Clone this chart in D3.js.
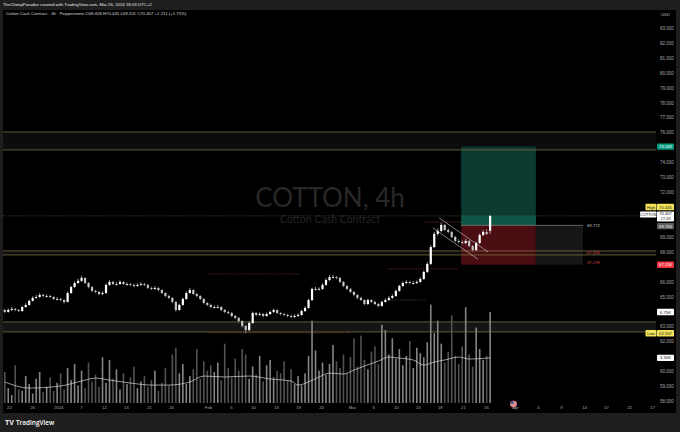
<!DOCTYPE html>
<html>
<head>
<meta charset="utf-8">
<script src="https://cdn.jsdelivr.net/npm/d3@7"></script>
<style>
  html, body { margin: 0; padding: 0; background: #1e1e1e; }
  svg { display: block; font-family: "Liberation Sans", Arial, sans-serif; }
</style>
</head>
<body>
<script>
/*
 * Cotton Cash Contract, 4h (Pepperstone), TradingView snapshot
 * candles + volume overlay + long position tool + zones
 */

// ---- data ----
var opens = [64.10,63.97,64.10,64.17,64.10,64.03,64.30,64.44,64.71,64.91,
  64.97,65.11,65.04,65.04,64.97,64.84,64.84,64.77,64.64,65.24,
  65.64,65.91,66.05,66.25,65.91,65.64,65.38,65.31,65.17,65.24,
  65.78,65.98,65.84,65.84,65.98,65.84,65.84,65.78,65.71,65.78,
  65.84,65.78,65.58,65.51,65.58,65.44,65.24,65.04,64.91,64.64,
  64.10,64.44,64.84,65.24,65.44,65.17,65.04,64.84,64.57,64.44,
  64.30,64.30,64.30,64.10,63.97,63.90,63.70,63.57,63.36,63.03,
  62.76,63.23,63.90,63.77,63.83,63.70,63.83,63.97,64.10,63.90,
  63.83,63.77,63.70,63.63,63.70,63.77,64.03,64.24,64.77,65.51,
  65.51,65.51,65.78,66.11,66.31,66.31,66.25,65.98,65.71,65.51,
  65.31,65.11,64.91,64.77,64.50,64.77,64.64,64.50,64.37,64.64,
  64.77,64.91,65.04,65.38,65.71,65.91,65.98,65.91,65.91,65.98,
  66.18,66.65,67.19,68.32,69.20,69.40,69.80,69.46,69.33,68.99,
  68.73,68.66,68.59,68.73,68.39,68.12,68.59,69.13,69.33,69.408];
var highs = [64.18,64.21,64.30,64.24,64.16,64.38,64.55,64.80,65.02,65.10,
  65.24,65.19,65.15,65.12,65.03,64.96,64.92,64.83,65.33,65.72,
  66.02,66.20,66.40,66.31,65.97,65.70,65.45,65.38,65.35,65.86,
  66.10,66.06,65.96,66.08,66.04,65.95,65.92,65.86,65.89,65.96,
  65.92,65.84,65.66,65.70,65.63,65.50,65.30,65.12,64.98,64.70,
  64.52,64.93,65.33,65.58,65.50,65.24,65.10,64.90,64.64,64.52,
  64.41,64.44,64.36,64.17,64.05,63.96,63.77,63.63,63.42,63.10,
  63.32,63.99,63.98,63.95,63.90,63.93,64.06,64.19,64.15,63.97,
  63.91,63.84,63.78,63.80,63.88,64.12,64.33,64.86,65.60,65.66,
  65.62,65.88,66.22,66.44,66.45,66.38,66.30,66.05,65.78,65.58,
  65.38,65.17,64.99,64.83,64.86,64.84,64.71,64.57,64.73,64.88,
  65.02,65.15,65.47,65.80,66.02,66.10,66.06,66.03,66.09,66.28,
  66.74,67.30,68.45,69.34,69.56,69.95,69.86,69.58,69.40,69.08,
  68.84,68.77,68.88,68.80,68.46,68.68,69.22,69.45,69.52,70.445];
var lows = [63.88,63.92,64.02,64.01,63.95,63.98,64.25,64.39,64.66,64.84,
  64.92,64.96,64.93,64.90,64.77,64.74,64.69,64.52,64.60,65.18,
  65.58,65.85,65.98,65.84,65.55,65.30,65.22,65.10,65.09,65.19,
  65.72,65.77,65.74,65.78,65.76,65.73,65.70,65.62,65.64,65.72,
  65.69,65.50,65.43,65.45,65.36,65.15,64.96,64.82,64.55,63.98,
  64.05,64.38,64.78,65.18,65.10,64.95,64.76,64.48,64.36,64.22,
  64.20,64.21,64.02,63.88,63.80,63.61,63.47,63.25,62.92,62.537,
  62.68,63.17,63.68,63.70,63.62,63.64,63.77,63.90,63.82,63.74,
  63.69,63.61,63.55,63.56,63.64,63.71,63.97,64.18,64.70,65.40,
  65.41,65.45,65.72,66.04,66.22,66.16,65.90,65.63,65.42,65.22,
  65.02,64.82,64.68,64.40,64.44,64.56,64.42,64.28,64.31,64.58,
  64.71,64.85,64.98,65.32,65.65,65.84,65.83,65.81,65.85,65.92,
  66.12,66.58,67.12,68.25,69.08,69.31,69.38,69.22,68.90,68.64,
  68.55,68.48,68.50,68.30,68.03,68.06,68.52,69.05,69.12,69.201];
var closes = [63.97,64.10,64.17,64.10,64.03,64.30,64.44,64.71,64.91,64.97,
  65.11,65.04,65.04,64.97,64.84,64.84,64.77,64.64,65.24,65.64,
  65.91,66.05,66.25,65.91,65.64,65.38,65.31,65.17,65.24,65.78,
  65.98,65.84,65.84,65.98,65.84,65.84,65.78,65.71,65.78,65.84,
  65.78,65.58,65.51,65.58,65.44,65.24,65.04,64.91,64.64,64.10,
  64.44,64.84,65.24,65.44,65.17,65.04,64.84,64.57,64.44,64.30,
  64.30,64.30,64.10,63.97,63.90,63.70,63.57,63.36,63.03,62.76,
  63.23,63.90,63.77,63.83,63.70,63.83,63.97,64.10,63.90,63.83,
  63.77,63.70,63.63,63.70,63.77,64.03,64.24,64.77,65.51,65.51,
  65.51,65.78,66.11,66.31,66.31,66.25,65.98,65.71,65.51,65.31,
  65.11,64.91,64.77,64.50,64.77,64.64,64.50,64.37,64.64,64.77,
  64.91,65.04,65.38,65.71,65.91,65.98,65.91,65.91,65.98,66.18,
  66.65,67.19,68.32,69.20,69.40,69.80,69.46,69.33,68.99,68.73,
  68.66,68.59,68.73,68.39,68.12,68.59,69.13,69.33,69.196,70.407];
// volume in thousands
var volumes = [2.3,1.1,0.6,2.8,1.0,0.9,2.0,1.4,0.7,1.8,2.3,0.8,1.2,1.9,0.9,1.5,2.2,1.0,2.6,1.7,
  2.9,1.3,2.4,1.1,3.0,1.6,2.1,1.2,3.4,1.5,3.2,1.8,2.5,1.0,2.2,1.4,1.9,2.7,1.1,1.6,
  2.0,1.2,1.7,2.4,0.9,1.5,2.6,1.3,3.6,4.1,2.2,2.9,1.4,2.0,2.5,4.0,1.8,3.1,2.4,2.8,
  2.3,3.0,1.7,4.4,2.6,1.9,3.3,2.4,4.0,3.6,1.8,2.7,2.1,3.5,1.6,2.8,3.2,1.9,2.4,2.2,
  3.1,1.7,2.5,1.4,2.0,1.3,2.2,3.5,6.1,3.9,2.4,3.0,2.1,2.9,4.3,3.1,2.6,3.6,2.2,3.4,
  4.8,2.7,5.0,3.2,2.5,3.8,4.2,2.9,5.8,5.4,3.6,4.8,3.3,4.0,2.8,3.5,4.6,2.6,4.1,3.7,
  3.4,4.5,7.3,5.2,6.1,4.4,3.0,3.8,6.5,3.5,2.9,4.2,7.1,3.6,2.7,5.6,4.0,3.2,3.5,6.75];
// volume moving average, read at some bars
var volMaBars = [0,7,16,22,26,30,36,42,47,53,57,63,70,76,82,84,87,90,93,97,100,103,107,110,113,117,120,123,126,130,133,139];
var volMaVals = [1.56,1.11,1.26,1.63,1.85,1.70,1.48,1.33,1.33,1.56,2.0,1.93,2.0,1.78,1.63,1.33,1.56,1.93,2.22,2.15,2.44,2.74,3.11,3.41,3.33,3.19,2.81,3.04,3.19,3.41,3.26,3.35];

var priceTicks = [58,59,60,62,63,65,66,68,69,72,73,74,76,77,78,79,80,81,82,83];
var timeTickLabels = ["22","26","2024","7","12","15","21","24","Feb","5","10","13","19","24",
  "Mar","5","10","13","18","21","26","Apr","4","9","14","17","22","27"];
var timeTickSlots = [1.7,8.3,15.8,22.3,28.9,35.2,41.8,48.1,58.7,65.3,71.6,78.2,84.5,91.1,
  99.9,106.0,112.5,118.8,125.1,131.7,138.3,146.6,153.2,159.8,166.4,172.7,179.3,185.9];

// zones [top, bottom]
var zones = [[76.03, 74.83], [68.06, 67.79], [63.30, 62.63]];
// long position: entry, stop, target, from/to slot
var entryPrice = 69.772, stopPrice = 67.134, targetPrice = 75.049;
var positionSlots = [131.2, 152.6, 166.1];
// falling channel [slot, price]
var channelLines = [[[124.9, 70.27], [138.9, 67.99]], [[123.1, 69.60], [136.0, 67.50]]];
// dotted level lines [price, fromSlot, toSlot, colour]
var dottedLevels = [[66.51, 58.7, 85.0, "#b23a3a"], [62.56, 58.7, 99.4, "#c0503a"],
  [70.0, 120.8, 131.5, "#c04a4a"], [66.85, 110.3, 130.0, "#c04040"], [64.77, 110.8, 121.4, "#6a6a6a"]];

var W = 680, H = 432;
var left = 3, right = 656;

var svg = d3.select("body").append("svg").attr("width", W).attr("height", H);

// frame
svg.append("rect").attr("width", W).attr("height", H).attr("fill", "#1e1e1e");
svg.append("rect").attr("x", left).attr("y", 10).attr("width", 673).attr("height", 403).attr("fill", "#000");

var xs = d3.scaleLinear().domain([0, 187]).range([left, right]);
var ys = d3.scaleLinear().domain([58, 83]).range([401, 28]);
var vs = d3.scaleLinear().domain([0, 6.75]).range([403, 312]);

var plot = svg.append("g");
svg.append("clipPath").attr("id", "clip").append("rect")
  .attr("x", left).attr("y", 10).attr("width", right - left).attr("height", 395);
plot.attr("clip-path", "url(#clip)");

// zones
zones.forEach(function(z, k) {
  plot.append("rect")
    .attr("x", left).attr("width", right - left)
    .attr("y", ys(z[0])).attr("height", ys(z[1]) - ys(z[0]))
    .attr("fill", k == 2 ? "#141414" : "#0c0c0c");
});

// watermark
svg.append("text").attr("x", 330).attr("y", 207).attr("text-anchor", "middle")
  .style("font-family", "Lato, 'Open Sans', sans-serif").style("font-size", "26px")
  .attr("fill", "#282828").text("COTTON, 4h");
svg.append("text").attr("x", 330).attr("y", 223).attr("text-anchor", "middle")
  .style("font-family", "Lato, 'Open Sans', sans-serif").style("font-size", "10.5px")
  .attr("fill", "#252525").text("Cotton Cash Contract");

// long position tool
var px0 = xs(positionSlots[0]), px1 = xs(positionSlots[1]), px2 = xs(positionSlots[2]);
plot.append("rect").attr("x", px0).attr("width", px1 - px0)
  .attr("y", ys(targetPrice)).attr("height", ys(entryPrice) - ys(targetPrice)).attr("fill", "#0b3a30");
plot.append("rect").attr("x", px0).attr("width", px1 - px0)
  .attr("y", ys(closes[closes.length - 1])).attr("height", ys(entryPrice) - ys(closes[closes.length - 1]))
  .attr("fill", "#0d5646");
plot.append("rect").attr("x", px0).attr("width", px1 - px0)
  .attr("y", ys(entryPrice)).attr("height", ys(stopPrice) - ys(entryPrice)).attr("fill", "#4a0d12");
plot.append("rect").attr("x", px1).attr("width", px2 - px1)
  .attr("y", ys(entryPrice)).attr("height", ys(stopPrice) - ys(entryPrice)).attr("fill", "#161616");
plot.append("line").attr("x1", px0).attr("x2", px2)
  .attr("y1", ys(entryPrice)).attr("y2", ys(entryPrice)).attr("stroke", "#8a8a8a").attr("stroke-width", 0.7);

// zone lines
zones.forEach(function(z) {
  z.forEach(function(p) {
    plot.append("line").attr("x1", left).attr("x2", right)
      .attr("y1", ys(p)).attr("y2", ys(p))
      .attr("stroke", "#7a6e40").attr("stroke-width", 0.8);
  });
});

// volume bars
var n = closes.length;
plot.selectAll(".vol").data(volumes).enter().append("rect")
  .attr("class", "vol")
  .attr("x", (d, i) => xs(i + 0.5) - 0.8)
  .attr("width", 1.6)
  .attr("y", d => vs(d))
  .attr("height", d => vs(0) - vs(d))
  .attr("fill", (d, i) => closes[i] >= opens[i] ? "#858585" : "#525252");

// volume MA
plot.append("path")
  .datum(volMaBars.map((b, k) => [b, volMaVals[k]]))
  .attr("d", d3.line().x(d => xs(d[0] + 0.5)).y(d => vs(d[1])).curve(d3.curveMonotoneX))
  .attr("fill", "none").attr("stroke", "#d8d8d8").attr("stroke-width", 0.7);

// dotted level lines
dottedLevels.forEach(function(l) {
  plot.append("line").attr("x1", xs(l[1])).attr("x2", xs(l[2]))
    .attr("y1", ys(l[0])).attr("y2", ys(l[0]))
    .attr("stroke", l[3]).attr("stroke-width", 0.7).attr("stroke-dasharray", "1,1.5");
});
// last price line
plot.append("line").attr("x1", left).attr("x2", right)
  .attr("y1", ys(closes[n - 1])).attr("y2", ys(closes[n - 1]))
  .attr("stroke", "#6d6d6d").attr("stroke-width", 0.6).attr("stroke-dasharray", "1,1.5");

// candles
var candles = plot.selectAll(".candle").data(closes).enter().append("g").attr("class", "candle");
candles.append("line")
  .attr("x1", (d, i) => xs(i + 0.5)).attr("x2", (d, i) => xs(i + 0.5))
  .attr("y1", (d, i) => ys(highs[i])).attr("y2", (d, i) => ys(lows[i]))
  .attr("stroke", (d, i) => d >= opens[i] ? "#ffffff" : "#c4c4c4").attr("stroke-width", 0.6);
candles.append("rect")
  .attr("x", (d, i) => xs(i + 0.5) - 1.1).attr("width", 2.2)
  .attr("y", (d, i) => ys(Math.max(d, opens[i])))
  .attr("height", (d, i) => Math.max(0.8, Math.abs(ys(d) - ys(opens[i]))))
  .attr("fill", (d, i) => d >= opens[i] ? "#ffffff" : "#c4c4c4");

// channel
channelLines.forEach(function(l) {
  plot.append("line").attr("x1", xs(l[0][0])).attr("y1", ys(l[0][1]))
    .attr("x2", xs(l[1][0])).attr("y2", ys(l[1][1]))
    .attr("stroke", "#d0d0d0").attr("stroke-width", 0.6);
});

// position labels
svg.append("text").attr("x", px2 + 4).attr("y", ys(entryPrice) + 1.5)
  .style("font-size", "4.2px").attr("fill", "#c8c8c8").text(entryPrice.toFixed(3));
svg.append("text").attr("x", px2 + 4).attr("y", ys(67.956) + 1.5)
  .style("font-size", "4.2px").attr("fill", "#d04040").text("67.956");
svg.append("text").attr("x", px2 + 4).attr("y", ys(67.299) + 1.5)
  .style("font-size", "4.2px").attr("fill", "#d04040").text("67.299");

// price axis
var yAxis = d3.axisRight(ys).tickValues(priceTicks).tickSize(0).tickPadding(4)
  .tickFormat(d3.format(".3f"));
var ya = svg.append("g").attr("transform", `translate(${right}, 0)`).call(yAxis);
ya.select(".domain").remove();
ya.selectAll("text").attr("fill", "#a8a8a8").style("font-size", "4.5px")
  .style("font-family", "'Liberation Sans', Arial, sans-serif");

// time axis
var xAxis = d3.axisBottom(xs).tickValues(timeTickSlots).tickSize(0).tickPadding(3)
  .tickFormat((d, i) => timeTickLabels[i]);
var xa = svg.append("g").attr("transform", "translate(0, 403)").call(xAxis);
xa.select(".domain").remove();
xa.selectAll("text").attr("fill", "#a8a8a8").style("font-size", "4.2px")
  .style("font-family", "'Liberation Sans', Arial, sans-serif");

// badges on the price scale
function badge(cy, txt, bg, fg, tag, tagBg) {
  var g = svg.append("g");
  g.append("rect").attr("x", 657).attr("y", cy - 3.2).attr("width", 17).attr("height", 6.4)
    .attr("rx", 0.8).attr("fill", bg);
  g.append("text").attr("x", 665.5).attr("y", cy + 1.5).attr("text-anchor", "middle")
    .style("font-size", "4.2px").attr("fill", fg).text(txt);
  if (tag) {
    g.append("rect").attr("x", 645.5).attr("y", cy - 3.2).attr("width", 11).attr("height", 6.4)
      .attr("rx", 0.8).attr("fill", tagBg);
    g.append("text").attr("x", 651).attr("y", cy + 1.5).attr("text-anchor", "middle")
      .style("font-size", "4px").attr("fill", fg).text(tag);
  }
}
badge(ys(targetPrice), targetPrice.toFixed(3), "#089981", "#ffffff");
badge(ys(highs[n - 1]) - 8.3, highs[n - 1].toFixed(3), "#f2e35a", "#1a1a1a", "High", "#f2e35a");
// last price + countdown
svg.append("rect").attr("x", 657).attr("y", ys(closes[n - 1]) - 4.5).attr("width", 17).attr("height", 10)
  .attr("rx", 0.8).attr("fill", "#ffffff");
svg.append("text").attr("x", 665.5).attr("y", ys(closes[n - 1]) - 0.4).attr("text-anchor", "middle")
  .style("font-size", "4.1px").attr("fill", "#111").text(closes[n - 1].toFixed(3));
svg.append("text").attr("x", 665.5).attr("y", ys(closes[n - 1]) + 4).attr("text-anchor", "middle")
  .style("font-size", "4.1px").attr("fill", "#333").text("27:49");
svg.append("rect").attr("x", 640).attr("y", ys(closes[n - 1]) - 4.5).attr("width", 16.5).attr("height", 6.2)
  .attr("rx", 0.8).attr("fill", "#ffffff");
svg.append("text").attr("x", 648.2).attr("y", ys(closes[n - 1]) - 0.2).attr("text-anchor", "middle")
  .style("font-size", "4px").attr("fill", "#111").text("COTTON");
badge(ys(69.72), "69.720", "#5d5d5d", "#ffffff");
badge(ys(stopPrice), stopPrice.toFixed(3), "#f23645", "#ffffff");
badge(vs(volumes[n - 1]), "6.75K", "#ffffff", "#111");
badge(ys(d3.min(lows)), d3.min(lows).toFixed(3), "#f2e35a", "#1a1a1a", "Low", "#f2e35a");
badge(vs(volMaVals[volMaVals.length - 1]), "3.35K", "#ffffff", "#111");

// USD label
svg.append("text").attr("x", 665.5).attr("y", 15.5).attr("text-anchor", "middle")
  .style("font-size", "4.2px").attr("fill", "#bdbdbd").text("USD");

// legend line
svg.append("text").attr("x", 6).attr("y", 15.3).style("font-size", "4.3px").attr("fill", "#d1d4dc")
  .text("Cotton Cash Contract · 4h · Pepperstone   O69.408  H70.445  L69.201  C70.407  +1.211 (+1.75%)");

// top banner
svg.append("text").attr("x", 3).attr("y", 6.2).style("font-size", "4.3px").attr("fill", "#e8e8e8")
  .text("TheChimpParadox created with TradingView.com, Mar 26, 2024 18:03 UTC+2");

// event flag on the time axis
var flag = svg.append("g").attr("transform", `translate(${xs(146.2)}, 404)`);
flag.append("circle").attr("r", 3.3).attr("fill", "#e8e8e8");
[-2, 0, 2].forEach(function(dy) {
  flag.append("rect").attr("x", -3).attr("y", dy - 0.5).attr("width", 6).attr("height", 0.9).attr("fill", "#d2333a");
});
flag.append("rect").attr("x", -2.8).attr("y", -2.6).attr("width", 2.8).attr("height", 2.4).attr("fill", "#2c4c9c");
flag.append("circle").attr("r", 3.3).attr("fill", "none").attr("stroke", "#b02a30").attr("stroke-width", 0.4);

// footer logo
var logo = svg.append("g").attr("transform", "translate(5, 424.5)");
logo.append("text").attr("x", 0).attr("y", 0).style("font-size", "7px").style("font-weight", "bold")
  .attr("fill", "#ffffff").text("TV");
logo.append("text").attr("x", 11).attr("y", 0).style("font-size", "6.4px")
  .style("font-family", "'Open Sans', sans-serif").style("font-weight", "600")
  .attr("fill", "#ffffff").text("TradingView");
</script>
</body>
</html>
